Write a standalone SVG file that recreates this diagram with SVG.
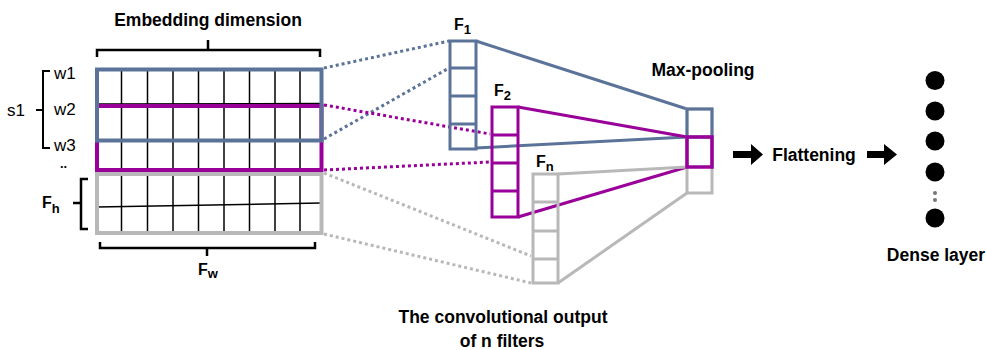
<svg xmlns="http://www.w3.org/2000/svg" width="986" height="350" viewBox="0 0 986 350">
<style>
.lbl{font-family:"Liberation Sans",Arial,sans-serif;font-weight:bold;font-size:17.5px;fill:#000}
.wl{font-family:"Liberation Sans",Arial,sans-serif;font-size:17px;fill:#000}
.fl{font-family:"Liberation Sans",Arial,sans-serif;font-weight:bold;font-size:16px;fill:#000}
.sub{font-size:13px}
.grid{stroke:#000;stroke-width:1.5;fill:none}
.br{stroke:#000;stroke-width:2.5;fill:none}
.blue{stroke:#5b7399}
.purple{stroke:#990099}
.gray{stroke:#b8b8b8}
.box{fill:none;stroke-width:3}
.big{fill:none;stroke-width:4}
.dot{fill:none;stroke-width:3;stroke-dasharray:3 3}
.sol{fill:none;stroke-width:3}
</style>
<rect width="986" height="350" fill="#fff"/>
<g id="embedding-matrix">
  <g class="grid">
    <line x1="121.5" y1="70" x2="121.5" y2="233"/>
    <line x1="147.5" y1="70" x2="147.5" y2="233"/>
    <line x1="173" y1="70" x2="173" y2="233"/>
    <line x1="198.5" y1="70" x2="198.5" y2="233"/>
    <line x1="224" y1="70" x2="224" y2="233"/>
    <line x1="249.5" y1="70" x2="249.5" y2="233"/>
    <line x1="275" y1="70" x2="275" y2="233"/>
    <line x1="300" y1="70" x2="300" y2="233"/>
    <line x1="97" y1="104" x2="321" y2="103.5"/>
    <line x1="97" y1="207" x2="321" y2="203"/>
  </g>
  <rect class="big gray" x="97" y="174" width="224.5" height="59"/>
  <rect class="big purple" x="97" y="106" width="224.5" height="64"/>
  <rect class="big blue" x="97" y="69.5" width="224.5" height="71"/>
</g>
<g id="embedding-labels">
  <text class="lbl" x="208" y="26" text-anchor="middle">Embedding dimension</text>
  <path class="br" d="M97,57 V50 H320 V57 M208,50 V40"/>
  <text class="wl" x="54" y="79">w1</text>
  <text class="wl" x="54" y="115">w2</text>
  <text class="wl" x="54" y="151">w3</text>
  <text class="wl" x="7" y="116">s1</text>
  <path class="br" style="stroke-width:2" d="M50,71 H43 V148 H50 M43,110 H36"/>
  <text class="wl" x="60" y="168" style="font-weight:bold;font-size:13px">..</text>
  <text class="fl" x="42" y="208">F<tspan class="sub" dy="5">h</tspan></text>
  <path class="br" d="M88,179 H81 V229 H88 M81,203 H73"/>
  <path class="br" d="M100,242 V248 H315 V242 M207,248 V256"/>
  <text class="fl" x="198" y="275">F<tspan class="sub" dy="3">w</tspan></text>
</g>
<g id="connectors">
  <line class="dot blue" x1="324" y1="68" x2="449" y2="41"/>
  <line class="dot blue" x1="324" y1="139" x2="449" y2="68"/>
  <line class="dot purple" x1="324" y1="105" x2="490" y2="134"/>
  <line class="dot purple" x1="324" y1="170" x2="490" y2="162"/>
  <line class="dot gray" x1="324" y1="173" x2="531" y2="256"/>
  <line class="dot gray" x1="324" y1="234" x2="531" y2="283"/>
  <line class="sol blue" x1="476" y1="41" x2="687" y2="109"/>
  <line class="sol blue" x1="476" y1="148" x2="687" y2="137"/>
  <line class="sol purple" x1="518" y1="107" x2="687" y2="137"/>
  <line class="sol purple" x1="518" y1="217" x2="687" y2="167"/>
  <line class="sol gray" x1="558" y1="174" x2="687" y2="167"/>
  <line class="sol gray" x1="558" y1="283" x2="687" y2="193"/>
  <polygon fill="#000" points="733,151 751,151 751,144 763,154.5 751,165 751,158 733,158"/>
  <polygon fill="#000" points="867,151 884,151 884,144 897,154.5 884,165 884,158 867,158"/>
</g>
<g id="filter-1">
  <rect class="box blue" x="450" y="41" width="26" height="108"/>
  <path class="box blue" d="M450,68 H476 M450,96 H476 M450,124 H476"/>
  <text class="fl" x="454" y="30">F<tspan class="sub" dy="4">1</tspan></text>
</g>
<g id="filter-2">
  <rect class="box purple" x="492" y="107" width="26" height="110"/>
  <path class="box purple" d="M492,135 H518 M492,163 H518 M492,191 H518"/>
  <text class="fl" x="494" y="96">F<tspan class="sub" dy="4">2</tspan></text>
</g>
<g id="filter-n">
  <rect class="box gray" x="533" y="174" width="25" height="109"/>
  <path class="box gray" d="M533,202 H558 M533,231 H558 M533,259 H558"/>
  <text class="fl" x="536" y="167">F<tspan class="sub" dy="4">n</tspan></text>
</g>
<text class="lbl" x="503" y="323" text-anchor="middle">The convolutional output</text>
<text class="lbl" x="502" y="347" text-anchor="middle">of n filters</text>
<g id="max-pooling">
  <rect class="box gray" x="687" y="109" width="25" height="84"/>
  <rect class="box blue" x="687" y="109" width="25" height="28"/>
  <rect class="box purple" x="687" y="137" width="25" height="30" style="stroke-width:3.5"/>
  <text class="lbl" x="703" y="76" text-anchor="middle">Max-pooling</text>
</g>
<g id="flattening">
  <text class="lbl" x="814" y="161" text-anchor="middle">Flattening</text>
</g>
<g id="dense-layer">
  <circle cx="935" cy="80.5" r="9.5"/>
  <circle cx="935" cy="111" r="9.5"/>
  <circle cx="935" cy="141" r="9.5"/>
  <circle cx="935" cy="172" r="9.5"/>
  <circle cx="935" cy="193" r="2" fill="#777"/>
  <circle cx="935" cy="200" r="2" fill="#777"/>
  <circle cx="935" cy="218" r="9.5"/>
  <text class="lbl" x="936" y="261" text-anchor="middle">Dense layer</text>
</g>
</svg>
